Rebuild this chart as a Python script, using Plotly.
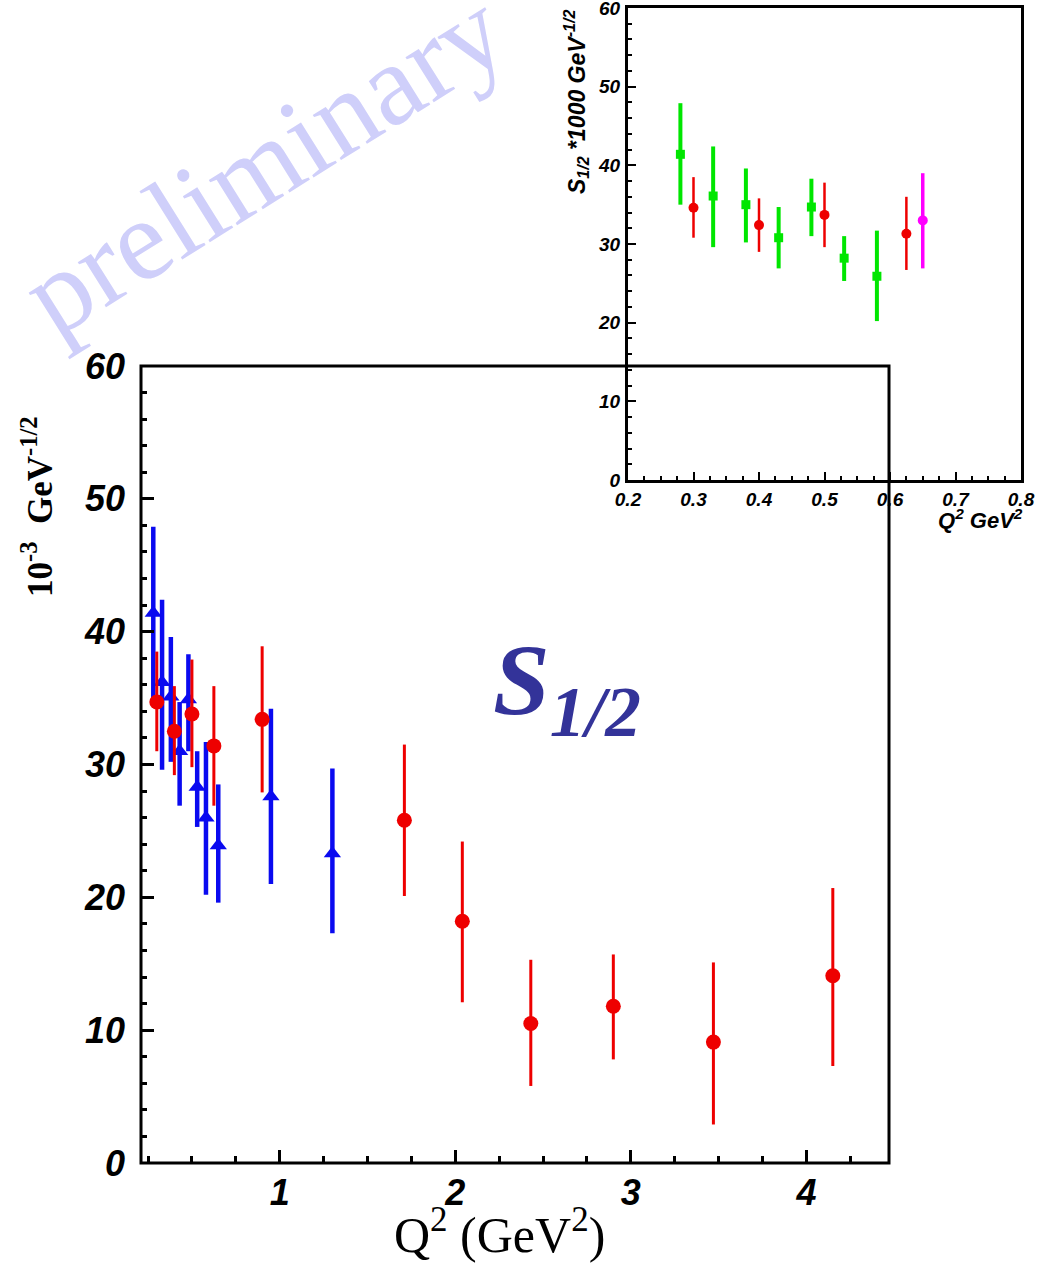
import plotly.graph_objects as go

W, H = 1042, 1263

# ---------------- data ----------------
blue_q2 = [0.28, 0.33, 0.38, 0.43, 0.48, 0.53, 0.58, 0.65, 0.95, 1.30]
blue_s  = [41.4, 36.2, 35.1, 31.0, 34.9, 28.3, 26.0, 23.9, 27.6, 23.3]
blue_hi = [47.9, 42.4, 39.6, 34.7, 38.3, 31.0, 31.7, 28.5, 34.2, 29.7]
blue_lo = [35.0, 29.6, 30.2, 26.9, 31.0, 25.3, 20.2, 19.6, 21.0, 17.3]

red_q2 = [0.30, 0.40, 0.50, 0.625, 0.90, 1.71, 2.04, 2.43, 2.90, 3.47, 4.15]
red_s  = [34.7, 32.5, 33.8, 31.4, 33.4, 25.8, 18.2, 10.5, 11.8, 9.1, 14.1]
red_hi = [38.5, 35.9, 37.9, 35.9, 38.9, 31.5, 24.2, 15.3, 15.7, 15.1, 20.7]
red_lo = [31.0, 29.2, 29.8, 26.9, 27.9, 20.1, 12.1, 5.8, 7.8, 2.9, 7.3]

# inset
green_q2 = [0.28, 0.33, 0.38, 0.43, 0.48, 0.53, 0.58]
green_s  = [41.4, 36.1, 35.0, 30.8, 34.7, 28.2, 25.9]
green_hi = [47.9, 42.4, 39.6, 34.7, 38.3, 31.0, 31.7]
green_lo = [35.0, 29.6, 30.2, 26.9, 31.0, 25.3, 20.2]

ired_q2 = [0.30, 0.40, 0.50, 0.625]
ired_s  = [34.6, 32.4, 33.7, 31.3]
ired_hi = [38.5, 35.8, 37.8, 36.0]
ired_lo = [30.8, 29.0, 29.6, 26.7]

mag_q2 = [0.65]
mag_s  = [33.0]
mag_hi = [39.0]
mag_lo = [26.9]

main_xticks = [1, 2, 3, 4]
main_yticks = [0, 10, 20, 30, 40, 50, 60]
inset_xticks = [0.2, 0.3, 0.4, 0.5, 0.6, 0.7, 0.8]
inset_yticks = [0, 10, 20, 30, 40, 50, 60]


def up(v, hi):
    return [h - a for a, h in zip(v, hi)]


def dn(v, lo):
    return [a - l for a, l in zip(v, lo)]


def px(x):
    return x / W


def py(y):
    return 1 - y / H


RED = "#ee0000"
BLUE = "#0a0af0"
GREEN = "#00e600"
MAG = "#ff00ff"

fig = go.Figure()

# ---------------- main plot ----------------
fig.add_trace(go.Scatter(
    x=blue_q2, y=blue_s, mode="markers", xaxis="x", yaxis="y",
    marker=dict(symbol="triangle-up", size=15, color=BLUE),
    error_y=dict(type="data", symmetric=False, array=up(blue_s, blue_hi),
                 arrayminus=dn(blue_s, blue_lo), width=0, thickness=4.5, color=BLUE),
    showlegend=False))
fig.add_trace(go.Scatter(
    x=red_q2, y=red_s, mode="markers", xaxis="x", yaxis="y",
    marker=dict(symbol="circle", size=15, color=RED),
    error_y=dict(type="data", symmetric=False, array=up(red_s, red_hi),
                 arrayminus=dn(red_s, red_lo), width=0, thickness=3, color=RED),
    showlegend=False))

# ---------------- inset ----------------
fig.add_trace(go.Scatter(
    x=green_q2, y=green_s, mode="markers", xaxis="x2", yaxis="y2",
    marker=dict(symbol="square", size=9, color=GREEN),
    error_y=dict(type="data", symmetric=False, array=up(green_s, green_hi),
                 arrayminus=dn(green_s, green_lo), width=0, thickness=4, color=GREEN),
    showlegend=False))
fig.add_trace(go.Scatter(
    x=ired_q2, y=ired_s, mode="markers", xaxis="x2", yaxis="y2",
    marker=dict(symbol="circle", size=10, color=RED),
    error_y=dict(type="data", symmetric=False, array=up(ired_s, ired_hi),
                 arrayminus=dn(ired_s, ired_lo), width=0, thickness=2.5, color=RED),
    showlegend=False))
fig.add_trace(go.Scatter(
    x=mag_q2, y=mag_s, mode="markers", xaxis="x2", yaxis="y2",
    marker=dict(symbol="circle", size=10, color=MAG),
    error_y=dict(type="data", symmetric=False, array=up(mag_s, mag_hi),
                 arrayminus=dn(mag_s, mag_lo), width=0, thickness=3.5, color=MAG),
    showlegend=False))

tick_font_main = dict(family="Liberation Sans", size=36, color="black",
                      weight="bold", style="italic")
tick_font_inset = dict(family="Liberation Sans", size=19, color="black",
                       weight="bold", style="italic")

fig.update_layout(
    width=W, height=H, autosize=False,
    margin=dict(l=0, r=0, t=0, b=0, pad=0),
    paper_bgcolor="white", plot_bgcolor="rgba(0,0,0,0)",
    showlegend=False,
    xaxis=dict(domain=[px(141), px(889)], range=[0.21, 4.47], anchor="y",
               automargin=False, ticklabeloverflow="allow",
               showgrid=False, zeroline=False, showline=False,
               tickmode="array", tickvals=main_xticks,
               ticktext=[str(v) for v in main_xticks],
               ticks="inside", ticklen=13, tickwidth=3, tickcolor="black",
               minor=dict(dtick=0.25, tick0=0, ticks="inside", ticklen=7,
                          tickwidth=3, tickcolor="black", showgrid=False),
               tickfont=tick_font_main, ticklabelstandoff=5),
    yaxis=dict(domain=[py(1163), py(366)], range=[0, 60], anchor="x",
               automargin=False, ticklabeloverflow="allow",
               showgrid=False, zeroline=False, showline=False,
               tickmode="array", tickvals=main_yticks,
               ticktext=[str(v) for v in main_yticks],
               ticks="inside", ticklen=13, tickwidth=3, tickcolor="black",
               minor=dict(dtick=2, tick0=0, ticks="inside", ticklen=6,
                          tickwidth=3, tickcolor="black", showgrid=False),
               tickfont=tick_font_main, ticklabelstandoff=15),
    xaxis2=dict(domain=[px(628), px(1021)], range=[0.2, 0.8], anchor="y2",
                automargin=False, ticklabeloverflow="allow",
                showgrid=False, zeroline=False, showline=True, mirror=True,
                linewidth=3, linecolor="black",
                tickmode="array", tickvals=inset_xticks,
                ticktext=["%.1f" % v for v in inset_xticks],
                ticks="inside", ticklen=8, tickwidth=2, tickcolor="black",
                minor=dict(dtick=0.025, tick0=0.2, ticks="inside", ticklen=4,
                           tickwidth=2, tickcolor="black", showgrid=False),
                tickfont=tick_font_inset, ticklabelstandoff=0),
    yaxis2=dict(domain=[py(480), py(8)], range=[0, 60], anchor="x2",
                automargin=False, ticklabeloverflow="allow",
                showgrid=False, zeroline=False, showline=True, mirror=True,
                linewidth=3, linecolor="black",
                tickmode="array", tickvals=inset_yticks,
                ticktext=[str(v) for v in inset_yticks],
                ticks="inside", ticklen=8, tickwidth=2, tickcolor="black",
                minor=dict(dtick=2, tick0=0, ticks="inside", ticklen=4,
                           tickwidth=2, tickcolor="black", showgrid=False),
                tickfont=tick_font_inset, ticklabelstandoff=1),
)

# main frame (drawn above everything, crossing the inset like the reference)
fig.add_shape(type="rect", xref="x domain", yref="y domain", x0=0, x1=1, y0=0, y1=1,
              line=dict(color="black", width=3), layer="above")

serif = "Liberation Serif"
annotations = [
    dict(text="preliminary", x=px(263), y=py(163), xref="paper", yref="paper",
         showarrow=False, textangle=-32, xanchor="center", yanchor="middle",
         font=dict(family=serif, size=116, color="#cfcffa")),
    dict(text="<b>10<sup>-3</sup>  GeV<sup>-1/2</sup></b>", x=px(37), y=py(507),
         xref="paper", yref="paper", showarrow=False, textangle=-90,
         xanchor="center", yanchor="middle",
         font=dict(family=serif, size=35, color="black")),
    dict(text="Q<sup>2</sup> (GeV<sup>2</sup>)", x=px(499), y=py(1231),
         xref="paper", yref="paper", showarrow=False,
         xanchor="center", yanchor="middle",
         font=dict(family=serif, size=50, color="black")),
    dict(text="<b><i>S<sub>1/2</sub></i></b>", x=px(491), y=py(687),
         xref="paper", yref="paper", showarrow=False,
         xanchor="left", yanchor="middle",
         font=dict(family=serif, size=102, color="#333399")),
    dict(text="S<sub>1/2</sub> *1000 GeV<sup>-1/2</sup>", x=px(576), y=py(102),
         xref="paper", yref="paper", showarrow=False, textangle=-90,
         xanchor="center", yanchor="middle",
         font=dict(family="Liberation Sans", size=23, color="black",
                   weight="bold", style="italic")),
    dict(text="Q<sup>2</sup> GeV<sup>2</sup>", x=px(1025), y=py(519),
         xref="paper", yref="paper", showarrow=False,
         xanchor="right", yanchor="middle",
         font=dict(family="Liberation Sans", size=22, color="black",
                   weight="bold", style="italic")),
]
fig.update_layout(annotations=annotations)

# remove the default 8px page margin so the figure fills the window exactly
fig.write_html("out.html", config={"displayModeBar": False},
               post_script="document.body.style.margin='0px';")
